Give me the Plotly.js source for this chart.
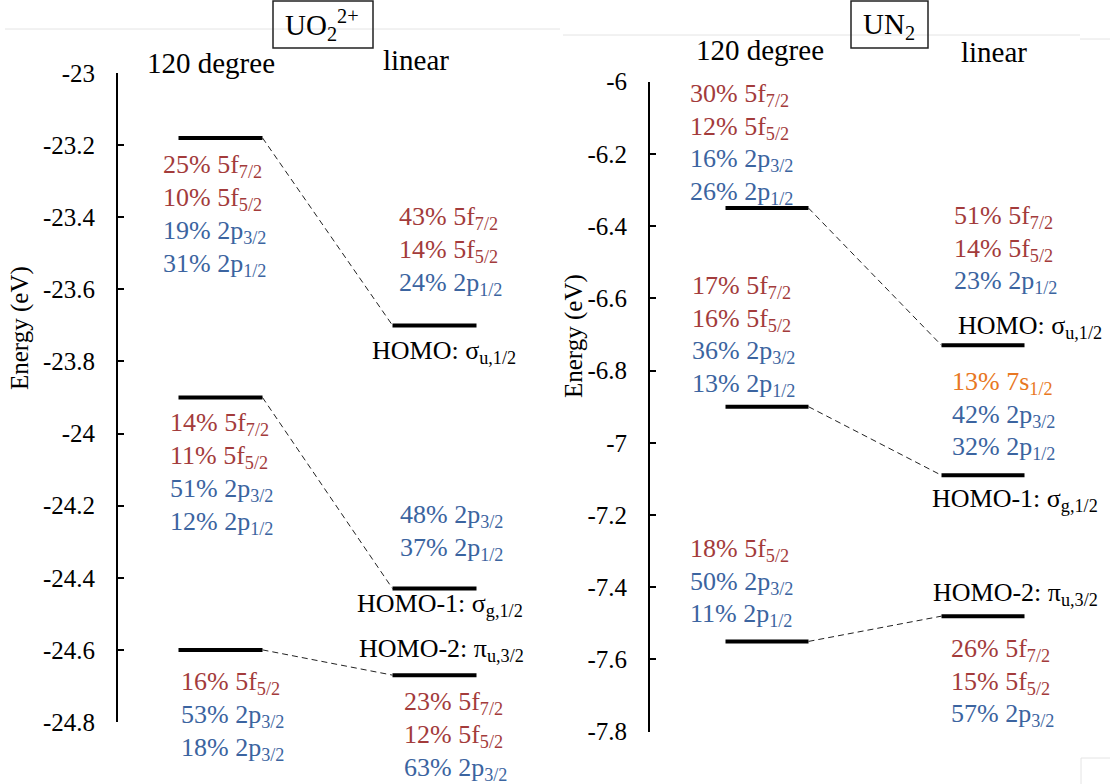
<!DOCTYPE html>
<html>
<head>
<meta charset="utf-8">
<script src="https://cdn.plot.ly/plotly-3.0.1.min.js"></script>
<style>html,body{margin:0;padding:0;background:#fff;}#chart{width:1110px;height:784px;}</style>
</head>
<body>
<div id="chart"></div>
<script>
// ---------------- DATA ----------------
const columns = ['120 degree', 'linear'];
const orbitalNames = ['HOMO: σ<sub>u,1/2</sub>', 'HOMO-1: σ<sub>g,1/2</sub>', 'HOMO-2: π<sub>u,3/2</sub>'];

const uo2Energy120 = [-23.18, -23.90, -24.60];
const uo2EnergyLinear = [-23.70, -24.43, -24.67];
const uo2Comp120 = [
  ['25% 5f<sub>7/2</sub>', '10% 5f<sub>5/2</sub>', '19% 2p<sub>3/2</sub>', '31% 2p<sub>1/2</sub>'],
  ['14% 5f<sub>7/2</sub>', '11% 5f<sub>5/2</sub>', '51% 2p<sub>3/2</sub>', '12% 2p<sub>1/2</sub>'],
  ['16% 5f<sub>5/2</sub>', '53% 2p<sub>3/2</sub>', '18% 2p<sub>3/2</sub>']
];
const uo2CompLinear = [
  ['43% 5f<sub>7/2</sub>', '14% 5f<sub>5/2</sub>', '24% 2p<sub>1/2</sub>'],
  ['48% 2p<sub>3/2</sub>', '37% 2p<sub>1/2</sub>'],
  ['23% 5f<sub>7/2</sub>', '12% 5f<sub>5/2</sub>', '63% 2p<sub>3/2</sub>']
];
const uo2TickVals = [-23, -23.2, -23.4, -23.6, -23.8, -24, -24.2, -24.4, -24.6, -24.8];
const uo2TickText = ['-23', '-23.2', '-23.4', '-23.6', '-23.8', '-24', '-24.2', '-24.4', '-24.6', '-24.8'];

const un2Energy120 = [-6.35, -6.90, -7.55];
const un2EnergyLinear = [-6.73, -7.09, -7.48];
const un2Comp120 = [
  ['30% 5f<sub>7/2</sub>', '12% 5f<sub>5/2</sub>', '16% 2p<sub>3/2</sub>', '26% 2p<sub>1/2</sub>'],
  ['17% 5f<sub>7/2</sub>', '16% 5f<sub>5/2</sub>', '36% 2p<sub>3/2</sub>', '13% 2p<sub>1/2</sub>'],
  ['18% 5f<sub>5/2</sub>', '50% 2p<sub>3/2</sub>', '11% 2p<sub>1/2</sub>']
];
const un2CompLinear = [
  ['51% 5f<sub>7/2</sub>', '14% 5f<sub>5/2</sub>', '23% 2p<sub>1/2</sub>'],
  ['13% 7s<sub>1/2</sub>', '42% 2p<sub>3/2</sub>', '32% 2p<sub>1/2</sub>'],
  ['26% 5f<sub>7/2</sub>', '15% 5f<sub>5/2</sub>', '57% 2p<sub>3/2</sub>']
];
const un2TickVals = [-6, -6.2, -6.4, -6.6, -6.8, -7, -7.2, -7.4, -7.6, -7.8];
const un2TickText = ['-6', '-6.2', '-6.4', '-6.6', '-6.8', '-7', '-7.2', '-7.4', '-7.6', '-7.8'];

const moleculeTitles = ['UO<sub>2</sub><sup>2+</sup>', 'UN<sub>2</sub>'];
const yTitle = 'Energy (eV)';

// ---------------- LAYOUT / STYLE ----------------
const W = 1110, H = 784;
const FONT = 'Liberation Serif';
const RED = '#a33b3b', BLUE = '#3b64a0', ORANGE = '#e87722';
function colorFor(s) { if (s.includes('5f')) return RED; if (s.includes('7s')) return ORANGE; return BLUE; }
const px = v => v / W;
const py = v => 1 - v / H;

const panels = [
  {
    xa: 'x', ya: 'y', axisPx: 118, rightPx: 545, c0: 220.5, c1: 434.5, halfW: 42,
    yTopPx: 73, yBotPx: 722, yTop: -23, yBot: -24.8,
    e120: uo2Energy120, eLin: uo2EnergyLinear, comp120: uo2Comp120, compLin: uo2CompLinear,
    tv: uo2TickVals, tt: uo2TickText, gap: 33,
    pos120: [{dx: -60, dy: 28}, {dx: -53, dy: 26}, {dx: -42, dy: 33}],
    posLin: [{dx: -37.5, dy: -107}, {dx: -36.5, dy: -73}, {dx: -33, dy: 28}],
    posLab: [{dx: -65, dy: 27}, {dx: -79.5, dy: 16}, {dx: -77.5, dy: -25}],
    head: [{x: 211, y: 63}, {x: 416, y: 60}],
    box: {x0: 273, x1: 373, y0: 1, y1: 48, tx: 322, ty: 25},
    ytitle: {x: 20, y: 328}
  },
  {
    xa: 'x2', ya: 'y2', axisPx: 650, rightPx: 1110, c0: 767, c1: 983, halfW: 41.5,
    yTopPx: 81.7, yBotPx: 731.7, yTop: -6, yBot: -7.8,
    e120: un2Energy120, eLin: un2EnergyLinear, comp120: un2Comp120, compLin: un2CompLinear,
    tv: un2TickVals, tt: un2TickText, gap: 32.5,
    pos120: [{dx: -79, dy: -113}, {dx: -77, dy: -119.6}, {dx: -79, dy: -91.3}],
    posLin: [{dx: -31, dy: -128}, {dx: -33, dy: -92}, {dx: -34, dy: 34}],
    posLab: [{dx: -26.6, dy: -18}, {dx: -53, dy: 25}, {dx: -52, dy: -22}],
    head: [{x: 760, y: 50}, {x: 994, y: 52}],
    box: {x0: 851, x1: 928, y0: 1, y1: 48, tx: 889, ty: 26},
    ytitle: {x: 574, y: 336}
  }
];

const traces = [];
const annotations = [];
const shapes = [];
const layout = {
  width: W, height: H, margin: {l: 0, r: 0, t: 0, b: 0},
  paper_bgcolor: '#fff', plot_bgcolor: 'rgba(0,0,0,0)',
  showlegend: false, font: {family: FONT, color: '#000'}
};

panels.forEach((p, pi) => {
  const unit = p.c1 - p.c0;
  const hw = p.halfW / unit;
  const xKey = pi === 0 ? 'xaxis' : 'xaxis2';
  const yKey = pi === 0 ? 'yaxis' : 'yaxis2';
  layout[xKey] = {
    domain: [px(p.axisPx), px(p.rightPx)],
    range: [(p.axisPx - p.c0) / unit, (p.rightPx - p.c0) / unit],
    visible: false, anchor: p.ya, fixedrange: true
  };
  layout[yKey] = {
    domain: [py(p.yBotPx), py(p.yTopPx)],
    range: [p.yBot, p.yTop], anchor: p.xa,
    showline: true, linecolor: '#000', linewidth: 2,
    ticks: 'inside', ticklen: 6, tickwidth: 2, tickcolor: '#000',
    tickmode: 'array', tickvals: p.tv, ticktext: p.tt,
    tickfont: {family: FONT, size: 25, color: '#000'},
    ticklabelstandoff: 16,
    showgrid: false, zeroline: false, fixedrange: true
  };

  // energy levels and connectors
  p.e120.forEach((e, i) => {
    traces.push({x: [0 - hw, 0 + hw], y: [e, e], xaxis: p.xa, yaxis: p.ya, mode: 'lines',
      line: {color: '#000', width: 4}, hoverinfo: 'skip'});
    const el = p.eLin[i];
    traces.push({x: [1 - hw, 1 + hw], y: [el, el], xaxis: p.xa, yaxis: p.ya, mode: 'lines',
      line: {color: '#000', width: 4}, hoverinfo: 'skip'});
    traces.push({x: [0 + hw, 1 - hw], y: [e, el], xaxis: p.xa, yaxis: p.ya, mode: 'lines',
      line: {color: '#222', width: 1, dash: '6px,4px'}, hoverinfo: 'skip'});
  });

  const addBlock = (lines, col, energy, pos) => {
    lines.forEach((t, li) => {
      annotations.push({
        xref: p.xa, yref: p.ya, x: col, y: energy, xanchor: 'left', yanchor: 'middle',
        xshift: pos.dx, yshift: -(pos.dy + li * p.gap), showarrow: false,
        text: t, font: {family: FONT, size: 26, color: colorFor(t)}
      });
    });
  };
  p.comp120.forEach((lines, i) => addBlock(lines, 0, p.e120[i], p.pos120[i]));
  p.compLin.forEach((lines, i) => addBlock(lines, 1, p.eLin[i], p.posLin[i]));
  orbitalNames.forEach((t, i) => {
    annotations.push({
      xref: p.xa, yref: p.ya, x: 1, y: p.eLin[i], xanchor: 'left', yanchor: 'middle',
      xshift: p.posLab[i].dx, yshift: -p.posLab[i].dy, showarrow: false,
      text: t, font: {family: FONT, size: 26, color: '#000'}
    });
  });

  // column headers
  columns.forEach((c, ci) => {
    annotations.push({xref: 'paper', yref: 'paper', x: px(p.head[ci].x), y: py(p.head[ci].y),
      xanchor: 'center', yanchor: 'middle', showarrow: false, text: c,
      font: {family: FONT, size: 29, color: '#000'}});
  });

  // molecule title box
  shapes.push({type: 'rect', xref: 'paper', yref: 'paper',
    x0: px(p.box.x0), x1: px(p.box.x1), y0: py(p.box.y1), y1: py(p.box.y0),
    line: {color: '#222', width: 1.5}, fillcolor: 'rgba(0,0,0,0)'});
  annotations.push({xref: 'paper', yref: 'paper', x: px(p.box.tx), y: py(p.box.ty),
    xanchor: 'center', yanchor: 'middle', showarrow: false, text: moleculeTitles[pi],
    font: {family: FONT, size: 29, color: '#000'}});

  // y title
  annotations.push({xref: 'paper', yref: 'paper', x: px(p.ytitle.x), y: py(p.ytitle.y),
    xanchor: 'center', yanchor: 'middle', showarrow: false, text: yTitle, textangle: -90,
    font: {family: FONT, size: 25, color: '#000'}});
});

// faint screenshot edge lines
const faint = (x0, y0, x1, y1) => shapes.push({type: 'line', xref: 'paper', yref: 'paper',
  x0: px(x0), x1: px(x1), y0: py(y0), y1: py(y1), line: {color: '#e4e4e4', width: 1}, layer: 'below'});
faint(5, 29, 560, 29);
faint(563, 35, 1080, 35);
faint(1080, 39, 1110, 39);
faint(1081, 758, 1081, 784);
faint(1081, 758, 1110, 758);

layout.shapes = shapes;
layout.annotations = annotations;

Plotly.newPlot('chart', traces, layout, {displayModeBar: false, staticPlot: true});
</script>
</body>
</html>
